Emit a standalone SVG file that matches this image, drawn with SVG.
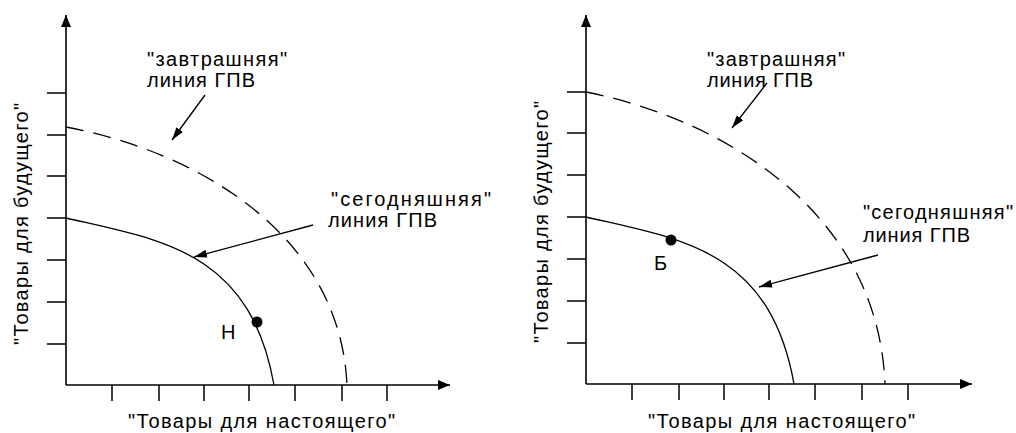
<svg xmlns="http://www.w3.org/2000/svg" width="1016" height="433" viewBox="0 0 1016 433">
<style>
text{font-family:"Liberation Sans",Arial,sans-serif;font-size:20px;fill:#000}
.ax{stroke:#000;stroke-width:1.6;fill:none}
.tk{stroke:#000;stroke-width:1.5;fill:none}
.cur{stroke:#000;stroke-width:1.3;fill:none}
.dash{stroke:#000;stroke-width:1.3;fill:none;stroke-dasharray:18 10}
.ptr{stroke:#000;stroke-width:1.3;fill:none}
</style>
<defs>
<marker id="axh" markerUnits="userSpaceOnUse" markerWidth="12" markerHeight="12" viewBox="0 0 12 12" refX="12" refY="6" orient="auto"><path d="M0,1 L12,6 L0,11 Z" fill="#000"/></marker>
<marker id="ph" markerUnits="userSpaceOnUse" markerWidth="13" markerHeight="10" viewBox="0 0 13 10" refX="13" refY="5" orient="auto"><path d="M0,1 L13,5 L0,9 Z" fill="#000"/></marker>
</defs>

<g id="left-chart">
  <g id="left-axes">
    <path class="ax" d="M66,385 V15" marker-end="url(#axh)"/>
    <path class="ax" d="M66,385 H450" marker-end="url(#axh)"/>
    <path class="tk" d="M47,93 H66 M47,135 H66 M47,176 H66 M47,218 H66 M47,260 H66 M47,302 H66 M47,344 H66"/>
    <path class="tk" d="M112,385 V401 M159,385 V401 M204,385 V401 M249,385 V401 M295,385 V401 M342,385 V401 M387,385 V401"/>
    <text x="128" y="428" textLength="267">"Товары для настоящего"</text>
    <text transform="translate(28,345) rotate(-90)" textLength="242">"Товары для будущего"</text>
  </g>
  <g id="left-curves">
    <path class="cur" d="M66,218 C160,240 250,250 274,385"/>
    <path class="dash" d="M66,127 C190,150 340,230 347,385"/>
  </g>
  <g id="left-point-H">
    <circle cx="257" cy="322" r="5.5" fill="#000"/>
    <text x="221" y="339">Н</text>
  </g>
  <g id="left-label-tomorrow">
    <text x="147" y="66" textLength="140">"завтрашняя"</text>
    <text x="147" y="87" textLength="108">линия ГПВ</text>
  </g>
  <g id="left-label-today">
    <text x="331" y="206" textLength="160">"сегодняшняя"</text>
    <text x="328" y="227" textLength="109">линия ГПВ</text>
  </g>
  <g id="left-connectors">
    <path class="ptr" d="M205,95 L172,140" marker-end="url(#ph)"/>
    <path class="ptr" d="M313,225 L194,257" marker-end="url(#ph)"/>
  </g>
</g>

<g id="right-chart">
  <g id="right-axes">
    <path class="ax" d="M586,384 V15" marker-end="url(#axh)"/>
    <path class="ax" d="M586,384 H972" marker-end="url(#axh)"/>
    <path class="tk" d="M567,92 H586 M567,133 H586 M567,175 H586 M567,217 H586 M567,259 H586 M567,301 H586 M567,343 H586"/>
    <path class="tk" d="M632,384 V400 M679,384 V400 M724,384 V400 M769,384 V400 M815,384 V400 M862,384 V400 M908,384 V400"/>
    <text x="648" y="428" textLength="267">"Товары для настоящего"</text>
    <text transform="translate(548,343) rotate(-90)" textLength="242">"Товары для будущего"</text>
  </g>
  <g id="right-curves">
    <path class="cur" d="M586,217 C680,239 770,249 794,384"/>
    <path class="dash" d="M586,92 C718,118 878,209 885,384"/>
  </g>
  <g id="right-point-B">
    <circle cx="671" cy="240" r="5.5" fill="#000"/>
    <text x="654" y="270">Б</text>
  </g>
  <g id="right-label-tomorrow">
    <text x="707" y="66" textLength="138">"завтрашняя"</text>
    <text x="707" y="87" textLength="106">линия ГПВ</text>
  </g>
  <g id="right-label-today">
    <text x="863" y="219" textLength="150">"сегодняшняя"</text>
    <text x="863" y="242" textLength="107">линия ГПВ</text>
  </g>
  <g id="right-connectors">
    <path class="ptr" d="M767,83 L732,128" marker-end="url(#ph)"/>
    <path class="ptr" d="M878,255 L759,287" marker-end="url(#ph)"/>
  </g>
</g>
</svg>
